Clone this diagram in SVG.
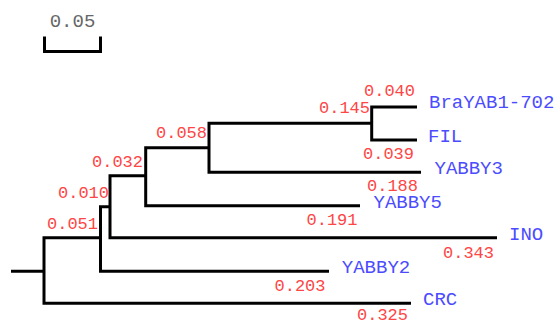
<svg xmlns="http://www.w3.org/2000/svg" width="557" height="324" viewBox="0 0 557 324">
  <style>
    .br { fill: none; stroke: #000; stroke-width: 3; stroke-linejoin: miter; stroke-linecap: butt; }
    .len { font-family: "Liberation Mono", "Courier New", monospace; font-size: 17px; fill: #ff4545; text-anchor: end; }
    .leaf { font-family: "Liberation Mono", "Courier New", monospace; font-size: 19px; fill: #4b4bff; }
    .scale { font-family: "Liberation Mono", "Courier New", monospace; font-size: 19px; fill: #666; text-anchor: middle; }
  </style>
  <rect width="557" height="324" fill="#fff"/>

  <!-- scale bar -->
  <g id="scalebar">
    <path class="br" d="M44.5,36.5 V51.5 H100.5 V36.5"/>
    <text class="scale" x="72.5" y="26.5">0.05</text>
  </g>

  <!-- branches of the tree -->
  <g id="connectors">
    <path class="br" d="M11,271.3 H44"/>
    <path class="br" d="M101,237.7 H44 V303.3 H411"/>
    <path class="br" d="M110,206.7 H100.5 V271.3 H329"/>
    <path class="br" d="M146,175.7 H110 V237.7 H497"/>
    <path class="br" d="M209,147.7 H145.7 V205.7 H360"/>
    <path class="br" d="M372,123.3 H209 V172.3 H421"/>
    <path class="br" d="M417,107 H371.7 V140 H417"/>
  </g>

  <!-- branch lengths -->
  <g id="lengths">
    <text class="len" x="415" y="96">0.040</text>
    <text class="len" x="370" y="113">0.145</text>
    <text class="len" x="414" y="159">0.039</text>
    <text class="len" x="207" y="138">0.058</text>
    <text class="len" x="418" y="190.5">0.188</text>
    <text class="len" x="143" y="166.5">0.032</text>
    <text class="len" x="357.5" y="225">0.191</text>
    <text class="len" x="109" y="197.5">0.010</text>
    <text class="len" x="494" y="258">0.343</text>
    <text class="len" x="98" y="229">0.051</text>
    <text class="len" x="325.5" y="290.5">0.203</text>
    <text class="len" x="408" y="319.5">0.325</text>
  </g>

  <!-- leaves -->
  <g id="BraYAB1-702"><text class="leaf" x="429" y="108">BraYAB1-702</text></g>
  <g id="FIL"><text class="leaf" x="428" y="141.5">FIL</text></g>
  <g id="YABBY3"><text class="leaf" x="434.5" y="174">YABBY3</text></g>
  <g id="YABBY5"><text class="leaf" x="373.5" y="207.5">YABBY5</text></g>
  <g id="INO"><text class="leaf" x="509" y="240">INO</text></g>
  <g id="YABBY2"><text class="leaf" x="341.8" y="272.5">YABBY2</text></g>
  <g id="CRC"><text class="leaf" x="423" y="305">CRC</text></g>
</svg>
